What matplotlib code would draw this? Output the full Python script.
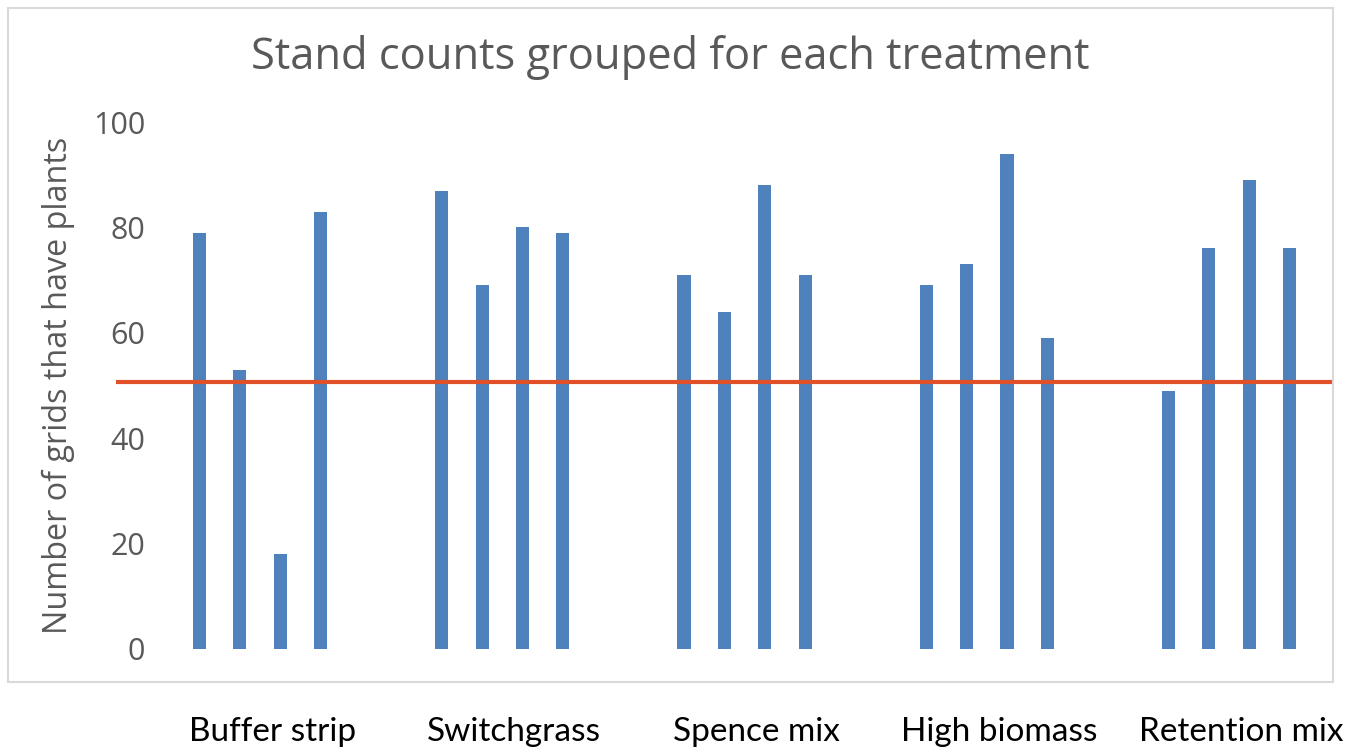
import numpy as np
import matplotlib
matplotlib.use("Agg")
import matplotlib.pyplot as plt
from matplotlib.patches import Rectangle

# data
treatments = ["Buffer strip", "Switchgrass", "Spence mix", "High biomass", "Retention mix"]
rep1 = [79, 87, 71, 69, 49]
rep2 = [53, 69, 64, 73, 76]
rep3 = [18, 80, 88, 94, 89]
rep4 = [83, 79, 71, 59, 76]
threshold = 50.7
yticks = [0, 20, 40, 60, 80, 100]

bar_color = "#4F81BD"
line_color = "#E0512A"
gray = "#595959"

fig = plt.figure(figsize=(13.48, 7.51), dpi=100)
ax = fig.add_axes([116 / 1348, 102 / 751, 1217 / 1348, 527 / 751])

x = np.arange(len(treatments))
step = 1 / 6
width = 0.054
for k, vals in enumerate([rep1, rep2, rep3, rep4]):
    ax.bar(x + (k - 1.5) * step, vals, width=width, color=bar_color, zorder=2)

ax.axhline(threshold, color=line_color, linewidth=3, zorder=3)

ax.set_xlim(-0.5944, 4.429)
ax.set_ylim(0, 100)
ax.set_yticks(yticks)
ax.set_yticklabels([str(v) for v in yticks], fontsize=22, color=gray, family="Open Sans")
ax.tick_params(axis="y", length=0, pad=-21)
for lab in ax.get_yticklabels():
    lab.set_horizontalalignment("right")

ax.set_xticks(x + 0.05)
ax.set_xticklabels(treatments, fontsize=24, color="black", family="Lato")
ax.tick_params(axis="x", length=0, pad=49)

ax.set_ylabel("Number of grids that have plants", fontsize=23.3, color=gray, family="Open Sans")
ax.yaxis.set_label_coords(-0.0337, 0.5)

for s in ax.spines.values():
    s.set_visible(False)

fig.text(0.497, 0.923, "Stand counts grouped for each treatment", ha="center", va="center",
         fontsize=31.3, color=gray, family="Open Sans")

# chart border
fig.patches.append(Rectangle((8 / 1348, 1 - 682 / 751), 1325 / 1348, 674 / 751,
                             transform=fig.transFigure, fill=False,
                             edgecolor="#D9D9D9", linewidth=1.5))

fig.savefig("out.png", dpi=100)
